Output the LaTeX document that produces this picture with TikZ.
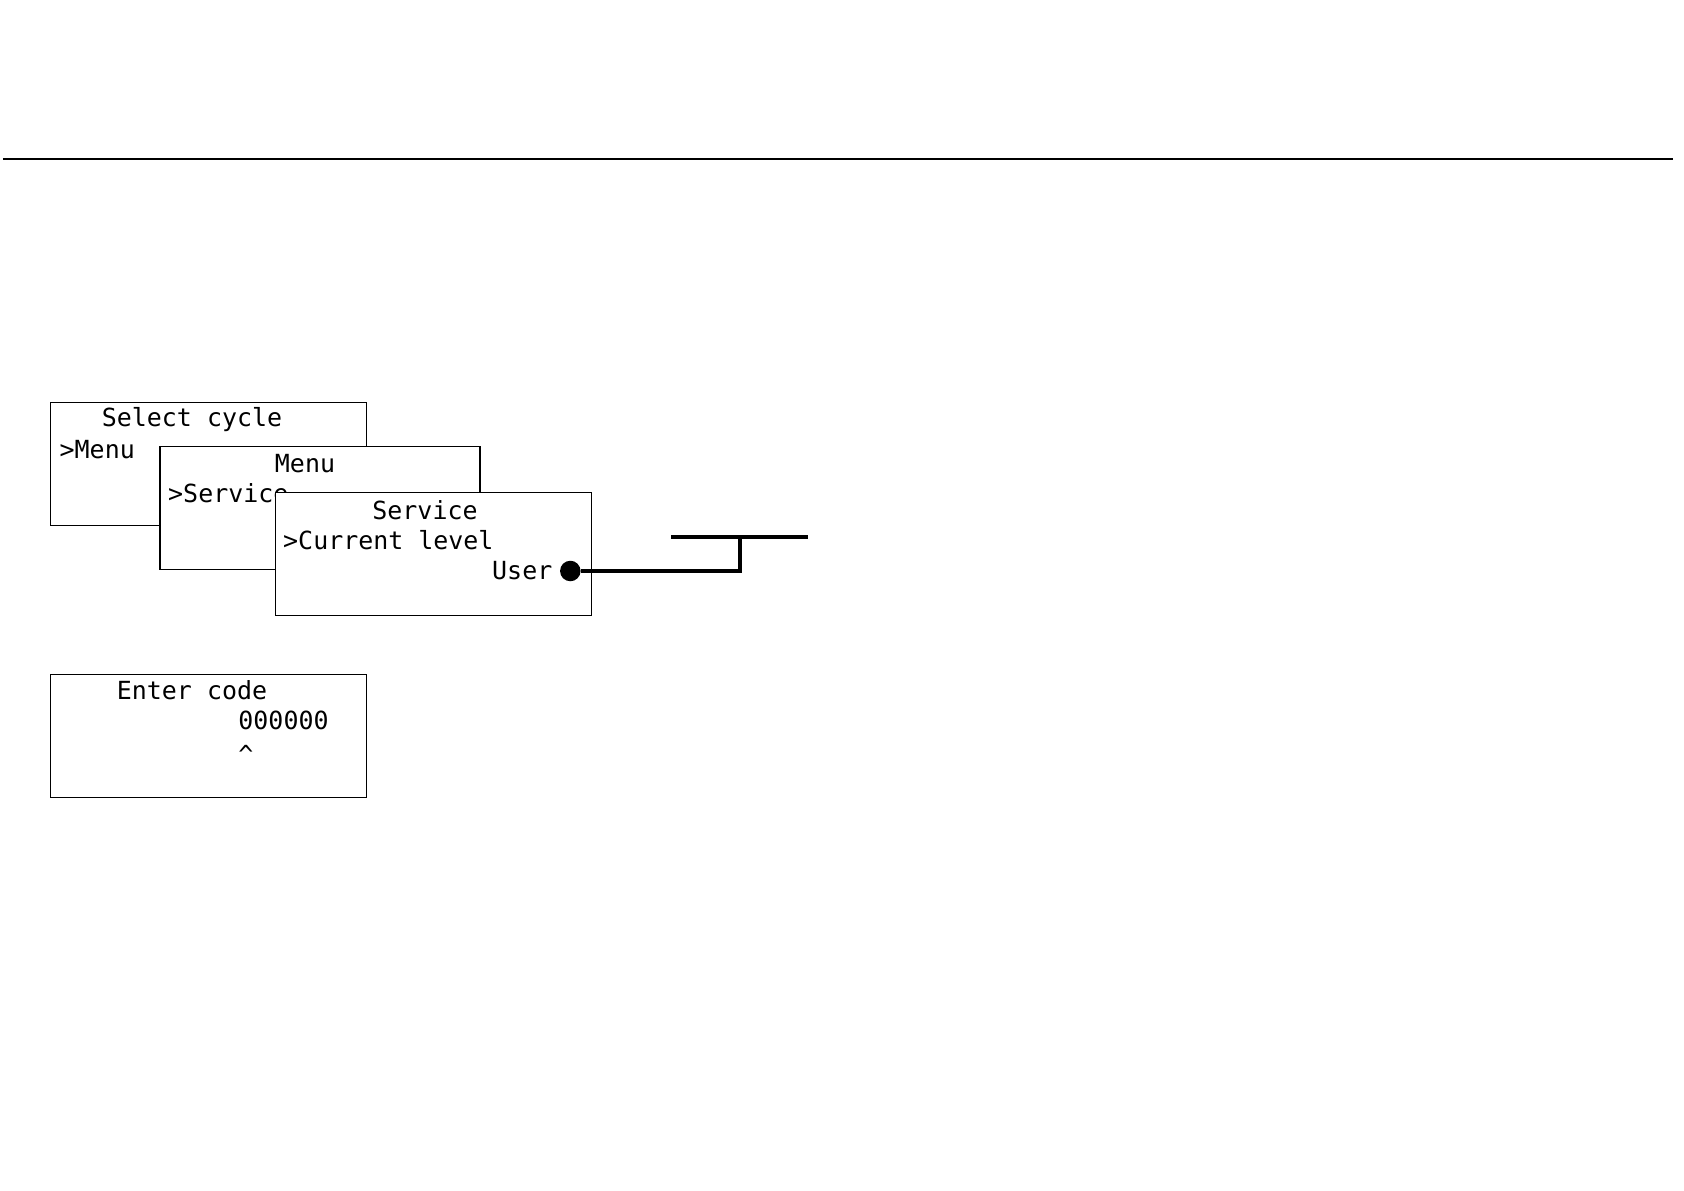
\documentclass[tikz,border=0pt]{standalone}
\usepackage{fontspec}
\newfontfamily\lcdfont{DejaVu Sans Mono}
\begin{document}
\begin{tikzpicture}[
    lcdbox/.style={draw, fill=white, line width=0.45pt, minimum width=3.16cm, minimum height=1.23cm, inner sep=0pt},
    lcdtext/.style={font=\lcdfont\fontsize{7.1}{8}\selectfont, inner sep=0pt, text height=1.8mm, text depth=0pt},
    knob/.style={circle, fill=black, minimum size=2.05mm, inner sep=0pt},
    wire/.style={line width=0.9pt}
]
    \useasboundingbox (0,0) rectangle (16.84,-11.90);

    % Rule across the page
    \coordinate (ruleL) at (0.03,-1.59);
    \coordinate (ruleR) at (16.73,-1.59);
    \draw[line width=0.75pt] (ruleL) -- (ruleR);

    % First screen: cycle selection
    \node[lcdbox] (select) at (2.083,-4.64) {};
    \node[lcdtext] (selecttitle) at (1.92,-4.18) {Select cycle};
    \node[lcdtext, anchor=west] (selectitem) at (0.59,-4.49) {>Menu};

    % Second screen: menu
    \node[lcdbox, minimum width=3.20cm] (menu) at (3.20,-5.08) {};
    \node[lcdtext] (menutitle) at (3.05,-4.64) {Menu};
    \node[lcdtext, anchor=west] (menuitem) at (1.675,-4.94) {>Service};

    % Third screen: service, on top of the others
    \node[lcdbox] (service) at (4.334,-5.542) {};
    \node[lcdtext] (servicetitle) at (4.25,-5.10) {Service};
    \node[lcdtext, anchor=west] (serviceitem) at (2.825,-5.40) {>Current level};
    \node[lcdtext, anchor=east] (servicevalue) at (5.53,-5.70) {User};

    % Marker on the current level and its leader
    \node[knob] (dot) at (5.703,-5.71) {};
    \coordinate (elbow) at (7.40,-5.71);
    \coordinate (elbowtop) at (7.40,-5.39);
    \draw[wire] (dot) -- (elbow) -- (elbowtop);
    \coordinate (tapL) at (6.71,-5.37);
    \coordinate (tapR) at (8.08,-5.37);
    \draw[wire] (tapL) -- (tapR);

    % Code entry screen
    \node[lcdbox] (code) at (2.083,-7.358) {};
    \node[lcdtext] (codetitle) at (1.92,-6.905) {Enter code};
    \node[lcdtext] (codedigits) at (2.835,-7.206) {000000};
    \node[lcdtext, anchor=base] (codecursor) at (2.46,-7.636) {\textasciicircum};

\end{tikzpicture}
\end{document}
